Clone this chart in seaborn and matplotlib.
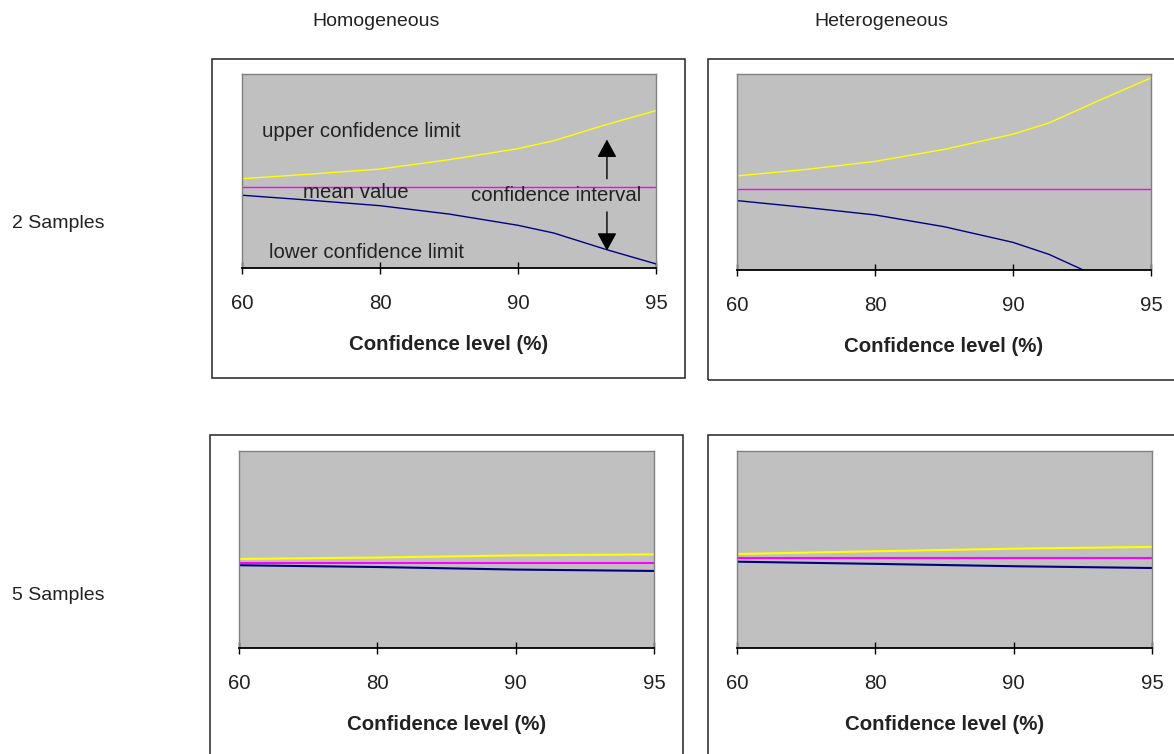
import numpy as np
import pandas as pd
import matplotlib.pyplot as plt
from matplotlib.patches import Rectangle
import seaborn as sns

sns.set_style("white")
plt.rcParams['font.family'] = ['Liberation Sans', 'DejaVu Sans']

# category axis labels (evenly spaced, like an Excel category axis)
tick_levels = [60, 80, 90, 95]

# 2 samples, homogeneous
hom2_levels = [60, 70, 80, 85, 90, 91.3, 93.2, 95]
hom2_upper = [46.0, 48.4, 51.0, 55.8, 61.5, 65.6, 73.9, 81.1]
hom2_mean = [41.6] * 8
hom2_lower = [37.5, 34.9, 32.1, 27.8, 22.0, 18.0, 9.5, 2.1]

# 2 samples, heterogeneous
het2_levels = [60, 70, 80, 85, 90, 91.3, 93.2, 95]
het2_upper = [48.0, 51.3, 55.4, 61.5, 69.3, 75.0, 87.0, 98.0]
het2_mean = [41.4] * 8
het2_lower = [35.4, 31.9, 28.1, 22.1, 14.1, 8.0, -4.2, -15.2]

# 5 samples, homogeneous
hom5_levels = [60, 80, 90, 95]
hom5_upper = [45.2, 45.9, 47.0, 47.5]
hom5_mean = [43.1] * 4
hom5_lower = [42.0, 41.1, 39.8, 39.1]

# 5 samples, heterogeneous
het5_levels = [60, 80, 90, 95]
het5_upper = [47.7, 49.1, 50.4, 51.3]
het5_mean = [45.9] * 4
het5_lower = [43.8, 42.7, 41.5, 40.6]

colors = {"upper": "#FFFF00", "mean": "#FF00FF", "lower": "#000080"}
fs = 14.7

fig = plt.figure(figsize=(11.74, 7.54), dpi=100)

# chart frames (the right/bottom ones run off the page)
for (x0, y0, w, h) in [(0.1806, 0.4987, 0.4029, 0.4231),
                       (0.6031, 0.4960, 0.45, 0.4257),
                       (0.1789, -0.05, 0.4029, 0.4731),
                       (0.6031, -0.05, 0.45, 0.4731)]:
    fig.add_artist(Rectangle((x0, y0), w, h, transform=fig.transFigure,
                             fill=False, ec="#222222", lw=1.1))

panels = [
    ([0.2061, 0.6446, 0.3526, 0.2573], hom2_levels, hom2_upper, hom2_mean, hom2_lower, 1.0),
    ([0.6278, 0.6419, 0.3526, 0.2600], het2_levels, het2_upper, het2_mean, het2_lower, 1.0),
    ([0.2036, 0.1406, 0.3535, 0.2613], hom5_levels, hom5_upper, hom5_mean, hom5_lower, 1.5),
    ([0.6278, 0.1406, 0.3535, 0.2613], het5_levels, het5_upper, het5_mean, het5_lower, 1.5),
]

axes = []
for rect, levels, up, mean, low, lw in panels:
    ax = fig.add_axes(rect)
    pos = np.interp(levels, tick_levels, np.arange(len(tick_levels)))
    df = pd.DataFrame({"pos": np.tile(pos, 3),
                       "value": up + mean + low,
                       "series": ["upper"] * len(up) + ["mean"] * len(mean) + ["lower"] * len(low)})
    sns.lineplot(data=df, x="pos", y="value", hue="series", palette=colors,
                 linewidth=lw, legend=False, ax=ax, sort=False)
    ax.set_facecolor("#C0C0C0")
    ax.set_xlim(0, 3)
    ax.set_ylim(0, 100)
    ax.set_yticks([])
    ax.set_ylabel("")
    ax.set_xticks(range(4))
    ax.set_xticklabels([str(t) for t in tick_levels], fontsize=fs, color="#222222")
    ax.tick_params(axis="x", bottom=True, direction="inout", length=8.6, width=1,
                   color="black", pad=14.5)
    ax.set_xlabel("Confidence level (%)", fontsize=fs, fontweight="bold",
                  color="#222222", labelpad=16)
    for s in ["top", "left", "right"]:
        ax.spines[s].set_color("#808080")
        ax.spines[s].set_linewidth(1)
    ax.spines["bottom"].set_color("black")
    ax.spines["bottom"].set_linewidth(1.3)
    axes.append(ax)

# annotations on the first chart
ax = axes[0]
ax.text(0.145, 70.4, "upper confidence limit", fontsize=fs, va="center", color="#222222")
ax.text(0.442, 38.7, "mean value", fontsize=fs, va="center", color="#222222")
ax.text(1.66, 37.5, "confidence interval", fontsize=fs, va="center", color="#222222")
ax.text(0.193, 8.2, "lower confidence limit", fontsize=fs, va="center", color="#222222")
arrow = dict(arrowstyle="-|>,head_length=0.55,head_width=0.3", color="black",
             lw=1, mutation_scale=20, shrinkA=0, shrinkB=0)
ax.annotate("", xy=(2.645, 66.2), xytext=(2.645, 46.0), arrowprops=arrow)
ax.annotate("", xy=(2.645, 8.9), xytext=(2.645, 28.9), arrowprops=arrow)

# column and row headers
fig.text(376 / 1174, 1 - 22 / 754, "Homogeneous", fontsize=14, ha="center", va="center", color="#222222")
fig.text(881 / 1174, 1 - 22 / 754, "Heterogeneous", fontsize=14, ha="center", va="center", color="#222222")
fig.text(12 / 1174, 1 - 223 / 754, "2 Samples", fontsize=14, ha="left", va="center", color="#222222")
fig.text(12 / 1174, 1 - 596 / 754, "5 Samples", fontsize=14, ha="left", va="center", color="#222222")

plt.savefig("out.png", dpi=100)
